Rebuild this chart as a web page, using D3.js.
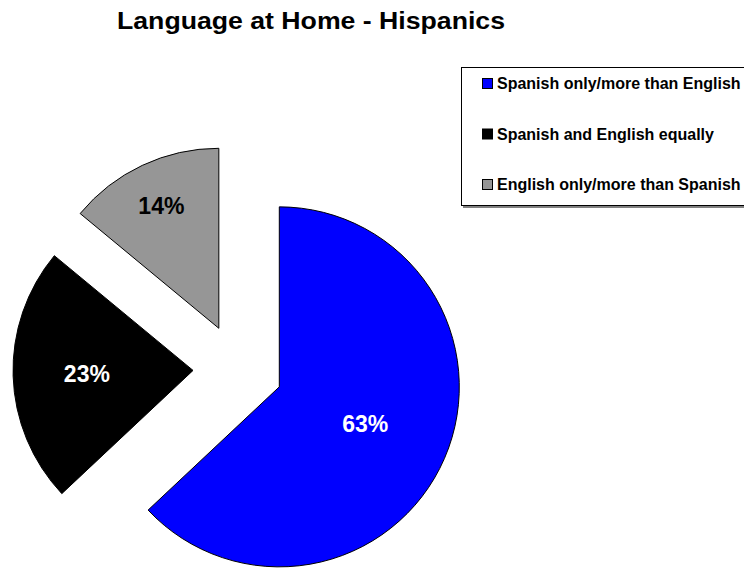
<!DOCTYPE html>
<html>
<head>
<meta charset="utf-8">
<script src="https://cdn.jsdelivr.net/npm/d3@7/dist/d3.min.js"></script>
<style>
  html, body { margin: 0; padding: 0; background: #fff; }
  svg { display: block; font-family: "Liberation Sans", Arial, sans-serif; }
</style>
</head>
<body>
<svg id="chart" width="744" height="568"></svg>
<script>
// Language spoken at home among Hispanics (percent of respondents)
const categories = [
  "Spanish only/more than English",
  "Spanish and English equally",
  "English only/more than Spanish"
];
const shares = [63, 23, 14];
const sliceColors = ["#0000ff", "#000000", "#969696"];
const labelColors = ["#ffffff", "#ffffff", "#000000"];
const chartTitle = "Language at Home - Hispanics";

// layout
const W = 744, H = 568;
const center = { x: 238, y: 369 };
const radius = 180;
const explode = 45;
const labelRadiusFactor = [0.52, 0.59, 0.75];

const svg = d3.select("#chart");

svg.append("text")
  .attr("x", 311).attr("y", 29)
  .attr("text-anchor", "middle")
  .attr("font-size", 23).attr("font-weight", "bold")
  .attr("textLength", 388).attr("lengthAdjust", "spacingAndGlyphs")
  .attr("fill", "#000")
  .text(chartTitle);

const pie = d3.pie().sort(null).value(d => d).startAngle(0).endAngle(2 * Math.PI);
const arcs = pie(shares);
const arc = d3.arc().innerRadius(0).outerRadius(radius);

const g = svg.append("g").attr("transform", `translate(${center.x},${center.y})`);

const slices = g.selectAll("g.slice")
  .data(arcs)
  .join("g")
  .attr("class", "slice")
  .attr("transform", d => {
    const a = (d.startAngle + d.endAngle) / 2;
    return `translate(${explode * Math.sin(a)},${-explode * Math.cos(a)})`;
  });

slices.append("path")
  .attr("d", arc)
  .attr("fill", (d, i) => sliceColors[i])
  .attr("stroke", "#000")
  .attr("stroke-width", 1);

slices.append("text")
  .attr("x", (d, i) => {
    const a = (d.startAngle + d.endAngle) / 2;
    return radius * labelRadiusFactor[i] * Math.sin(a);
  })
  .attr("y", (d, i) => {
    const a = (d.startAngle + d.endAngle) / 2;
    return -radius * labelRadiusFactor[i] * Math.cos(a);
  })
  .attr("dy", "0.36em")
  .attr("text-anchor", "middle")
  .attr("font-size", 23).attr("font-weight", "bold")
  .attr("fill", (d, i) => labelColors[i])
  .text(d => d.data + "%");

// legend
const legend = svg.append("g").attr("transform", "translate(461,67)");
legend.append("rect")
  .attr("x", 2).attr("y", 2).attr("width", 300).attr("height", 139)
  .attr("fill", "#808080");
legend.append("rect")
  .attr("x", 0.5).attr("y", 0.5).attr("width", 300).attr("height", 138)
  .attr("fill", "#fff").attr("stroke", "#000").attr("stroke-width", 1);

const rowY = d3.scalePoint().domain(d3.range(categories.length)).range([22, 123]);
const items = legend.selectAll("g.item")
  .data(categories)
  .join("g")
  .attr("class", "item")
  .attr("transform", (d, i) => `translate(0,${rowY(i)})`);
items.append("rect")
  .attr("x", 21.5).attr("y", -10.5).attr("width", 10).attr("height", 10)
  .attr("fill", (d, i) => sliceColors[i])
  .attr("stroke", "#000").attr("stroke-width", 1);
items.append("text")
  .attr("x", 36).attr("y", 0)
  .attr("font-size", 16).attr("font-weight", "bold")
  .attr("fill", "#000")
  .text(d => d);
</script>
</body>
</html>
